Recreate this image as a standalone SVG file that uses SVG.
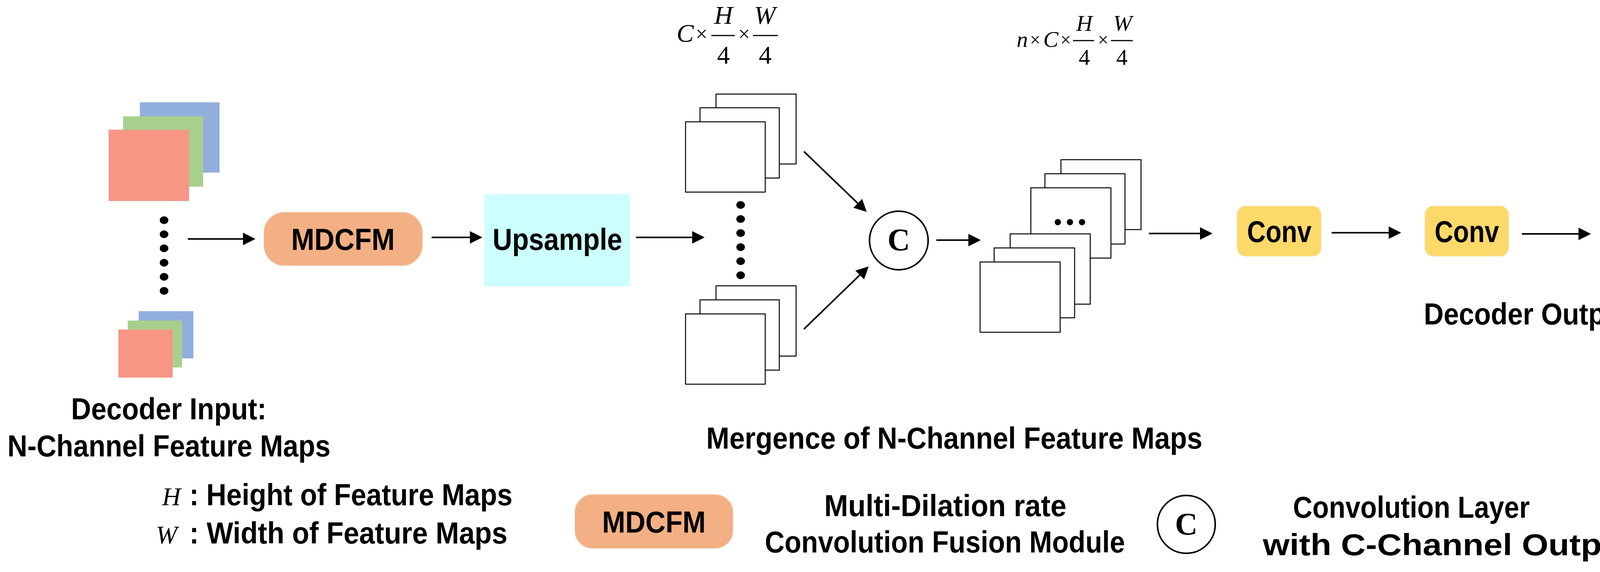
<svg xmlns="http://www.w3.org/2000/svg" width="4201" height="1465" viewBox="0 0 4201 1465">
<defs>
<marker id="ah" markerWidth="8" markerHeight="8" refX="7" refY="4" orient="auto" markerUnits="strokeWidth"><path d="M0,0 L8,4 L0,8 z" fill="#000"/></marker>
<style>
.t{font-family:"Liberation Sans",Arial,sans-serif;font-weight:bold;font-size:78px;fill:#000}
.m{font-family:"Liberation Serif","Times New Roman",serif;fill:#000}
.w{fill:#fff;stroke:#000;stroke-width:2.5}
.ln{stroke:#000;stroke-width:4;fill:none;marker-end:url(#ah)}
.fl{stroke:#000;stroke-width:3}
</style>
</defs>
<rect width="4201" height="1465" fill="#fff"/>
<g id="input-top">
<rect x="358" y="262" width="204" height="180" fill="#92AEDC"/>
<rect x="315" y="298" width="205" height="180" fill="#A8D08D"/>
<rect x="279" y="333" width="204" height="181" fill="#F79685" stroke="#e0a090" stroke-width="2"/>
</g>
<g id="input-dots" fill="#000">
<ellipse cx="420" cy="564" rx="11" ry="10"/><ellipse cx="420" cy="600" rx="11" ry="10"/><ellipse cx="420" cy="636" rx="11" ry="10"/><ellipse cx="420" cy="673" rx="11" ry="10"/><ellipse cx="420" cy="709" rx="11" ry="10"/><ellipse cx="420" cy="745" rx="11" ry="10"/>
</g>
<g id="input-bottom">
<rect x="355" y="797" width="140" height="121" fill="#92AEDC"/>
<rect x="327" y="821" width="139" height="120" fill="#A8D08D"/>
<rect x="303" y="844" width="139" height="123" fill="#F79685"/>
</g>
<g id="mdcfm">
<rect x="676" y="544" width="405" height="136" rx="52" fill="#F3B084" stroke="#f0c0a0" stroke-width="2"/>
<text class="t" x="878" y="640" text-anchor="middle" textLength="265" lengthAdjust="spacingAndGlyphs">MDCFM</text>
</g>
<g id="upsample">
<rect x="1240" y="498" width="373" height="235" fill="#CCFFFF"/>
<text class="t" x="1427" y="640" text-anchor="middle" textLength="332" lengthAdjust="spacingAndGlyphs">Upsample</text>
</g>
<g id="maps-top">
<rect class="w" x="1833" y="241" width="205" height="179"/>
<rect class="w" x="1792" y="276" width="203" height="180"/>
<rect class="w" x="1755" y="312" width="204" height="180"/>
</g>
<g id="maps-dots" fill="#000">
<ellipse cx="1896" cy="525" rx="11" ry="10"/><ellipse cx="1896" cy="561" rx="11" ry="10"/><ellipse cx="1896" cy="597" rx="11" ry="10"/><ellipse cx="1896" cy="633" rx="11" ry="10"/><ellipse cx="1896" cy="669" rx="11" ry="10"/><ellipse cx="1896" cy="705" rx="11" ry="10"/>
</g>
<g id="maps-bottom">
<rect class="w" x="1833" y="732" width="205" height="180"/>
<rect class="w" x="1792" y="768" width="203" height="180"/>
<rect class="w" x="1755" y="804" width="204" height="180"/>
</g>
<g id="formula1">
<text class="m" x="1754" y="107" font-size="66" font-style="italic" text-anchor="middle">C</text>
<text class="m" x="1796" y="105" font-size="54" text-anchor="middle">×</text>
<text class="m" x="1852" y="61" font-size="66" font-style="italic" text-anchor="middle">H</text>
<line class="fl" x1="1821" y1="91" x2="1881" y2="91"/>
<text class="m" x="1852" y="163" font-size="66" text-anchor="middle">4</text>
<text class="m" x="1905" y="105" font-size="54" text-anchor="middle">×</text>
<text class="m" x="1958" y="61" font-size="66" font-style="italic" text-anchor="middle">W</text>
<line class="fl" x1="1928" y1="91" x2="1991" y2="91"/>
<text class="m" x="1959" y="163" font-size="66" text-anchor="middle">4</text>
</g>
<g id="concat">
<circle cx="2301" cy="616" r="75" fill="#fff" stroke="#000" stroke-width="4"/>
<text class="m" x="2301" y="641" font-size="80" font-weight="bold" text-anchor="middle">C</text>
</g>
<g id="maps-merged">
<rect class="w" x="2716" y="409" width="205" height="179"/>
<rect class="w" x="2675" y="445" width="205" height="180"/>
<rect class="w" x="2639" y="481" width="205" height="180"/>
<circle cx="2708" cy="569" r="8"/><circle cx="2739" cy="569" r="8"/><circle cx="2770" cy="569" r="8"/>
<rect class="w" x="2586" y="599" width="205" height="180"/>
<rect class="w" x="2545" y="635" width="206" height="179"/>
<rect class="w" x="2509" y="671" width="205" height="180"/>
</g>
<g id="formula2">
<text class="m" x="2617" y="120" font-size="58" font-style="italic" text-anchor="middle">n</text>
<text class="m" x="2650" y="118" font-size="48" text-anchor="middle">×</text>
<text class="m" x="2690" y="120" font-size="58" font-style="italic" text-anchor="middle">C</text>
<text class="m" x="2728" y="118" font-size="48" text-anchor="middle">×</text>
<text class="m" x="2776" y="79" font-size="58" font-style="italic" text-anchor="middle">H</text>
<line class="fl" x1="2747" y1="104" x2="2801" y2="104"/>
<text class="m" x="2776" y="166" font-size="58" text-anchor="middle">4</text>
<text class="m" x="2824" y="118" font-size="48" text-anchor="middle">×</text>
<text class="m" x="2874" y="79" font-size="58" font-style="italic" text-anchor="middle">W</text>
<line class="fl" x1="2844" y1="104" x2="2900" y2="104"/>
<text class="m" x="2872" y="166" font-size="58" text-anchor="middle">4</text>
</g>
<g id="conv1">
<rect x="3167" y="528" width="215" height="128" rx="22" fill="#FDD96A" stroke="#f5e0a0" stroke-width="2"/>
<text class="t" x="3275" y="620" text-anchor="middle" textLength="165" lengthAdjust="spacingAndGlyphs">Conv</text>
</g>
<g id="conv2">
<rect x="3648" y="528" width="214" height="128" rx="22" fill="#FDD96A" stroke="#f5e0a0" stroke-width="2"/>
<text class="t" x="3755" y="620" text-anchor="middle" textLength="165" lengthAdjust="spacingAndGlyphs">Conv</text>
</g>
<g id="connectors">
<line class="ln" x1="481" y1="612" x2="650" y2="612"/>
<line class="ln" x1="1105" y1="608" x2="1231" y2="608"/>
<line class="ln" x1="1628" y1="608" x2="1800" y2="608"/>
<line class="ln" x1="2058" y1="388" x2="2216" y2="540"/>
<line class="ln" x1="2058" y1="843" x2="2221" y2="685"/>
<line class="ln" x1="2397" y1="615" x2="2507" y2="615"/>
<line class="ln" x1="2941" y1="598" x2="3100" y2="598"/>
<line class="ln" x1="3409" y1="596" x2="3583" y2="596"/>
<line class="ln" x1="3896" y1="599" x2="4069" y2="599"/>
</g>
<g id="labels">
<text class="t" x="432" y="1074" text-anchor="middle" textLength="500" lengthAdjust="spacingAndGlyphs">Decoder Input:</text>
<text class="t" x="19" y="1169" textLength="827" lengthAdjust="spacingAndGlyphs">N-Channel Feature Maps</text>
<text class="t" x="1808" y="1149" textLength="1270" lengthAdjust="spacingAndGlyphs">Mergence of N-Channel Feature Maps</text>
<text class="t" x="3645" y="831" textLength="530" lengthAdjust="spacingAndGlyphs">Decoder Output</text>
</g>
<g id="legend">
<text class="m" x="415" y="1294" font-size="66" font-style="italic">H</text>
<text class="t" x="485" y="1294" textLength="827" lengthAdjust="spacingAndGlyphs">: Height of Feature Maps</text>
<text class="m" x="399" y="1392" font-size="66" font-style="italic">W</text>
<text class="t" x="485" y="1392" textLength="814" lengthAdjust="spacingAndGlyphs">: Width of Feature Maps</text>
<rect x="1472" y="1267" width="404" height="137" rx="45" fill="#F3B084" stroke="#f0c0a0" stroke-width="2"/>
<text class="t" x="1674" y="1364" text-anchor="middle" textLength="265" lengthAdjust="spacingAndGlyphs">MDCFM</text>
<text class="t" x="2420" y="1322" text-anchor="middle" textLength="620" lengthAdjust="spacingAndGlyphs">Multi-Dilation rate</text>
<text class="t" x="2419" y="1415" text-anchor="middle" textLength="922" lengthAdjust="spacingAndGlyphs">Convolution Fusion Module</text>
<circle cx="3037" cy="1343" r="74" fill="#fff" stroke="#000" stroke-width="4"/>
<text class="m" x="3037" y="1369" font-size="80" font-weight="bold" text-anchor="middle">C</text>
<text class="t" x="3613" y="1326" text-anchor="middle" textLength="606" lengthAdjust="spacingAndGlyphs">Convolution Layer</text>
<text class="t" x="3708" y="1422" text-anchor="middle" textLength="950" lengthAdjust="spacingAndGlyphs">with C-Channel Output</text>
</g>
</svg>
